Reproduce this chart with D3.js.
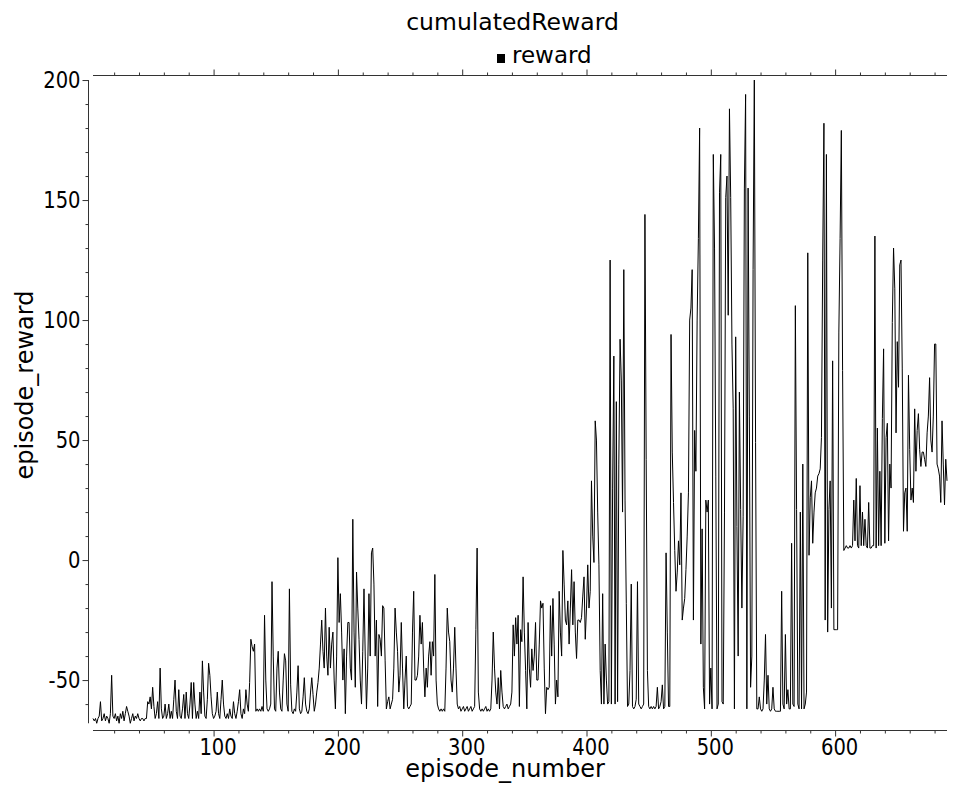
<!DOCTYPE html>
<html><head><meta charset="utf-8">
<script src="https://cdn.jsdelivr.net/npm/d3@7"></script>
<style>
body{margin:0;background:#fff}
svg{display:block}
text{font-family:"DejaVu Sans",sans-serif;fill:#000}
</style>
</head><body>
<svg id="chart" width="953" height="787"></svg>
<script>
const chartTitle = "cumulatedReward";
const seriesName = "reward";
const xLabel = "episode_number";
const yLabel = "episode_reward";
const firstEpisode = 3;
const rewards = [
-66,-67,-66,-68,-66,-65,-59,-67,
-66,-64,-67,-65,-66,-68,-64,-48,-65,-66,
-64,-67,-65,-68,-64,-66,-63,-67,-64,-61,
-63,-65,-68,-66,-64,-67,-65,-66,-64,-66,
-67,-66,-66,-67,-66,-66,-59,-60,-57,-62,
-53,-61,-66,-64,-59,-66,-45,-62,-66,-65,
-60,-66,-64,-60,-66,-63,-66,-58,-50,-63,
-66,-54,-65,-66,-62,-56,-66,-55,-64,-66,
-60,-51,-66,-51,-60,-66,-63,-66,-55,-64,
-42,-55,-65,-66,-58,-43,-48,-57,-64,-66,
-65,-63,-55,-64,-66,-58,-50,-60,-65,-66,
-64,-66,-62,-65,-66,-59,-64,-66,-63,-59,
-54,-64,-66,-62,-64,-54,-60,-63,-51,-33,
-36,-38,-35,-63,-62,-63,-62,-63,-61,-63,
-23,-50,-62,-63,-62,-60,-9,-40,-62,-63,
-45,-38,-55,-62,-63,-50,-39,-42,-60,-63,
-12,-52,-63,-64,-62,-63,-55,-44,-62,-64,
-63,-57,-49,-60,-63,-64,-62,-55,-49,-56,
-63,-60,-55,-51,-45,-35,-25,-38,-45,-20,
-40,-48,-28,-45,-35,-30,-50,-62,-40,1,
-26,-14,-30,-50,-37,-64,-40,-26,-26,-45,
-50,17,-30,-53,-5,-20,-33,-50,-60,-38,
-12,-40,-62,-45,-14,-40,3,5,-10,-40,
-25,-61,-31,-33,-40,-19,-20,-42,-62,-59,
-57,-62,-60,-58,-45,-20,-30,-38,-55,-48,
-26,-45,-62,-50,-40,-61,-62,-61,-60,-30,
-13,-50,-50,-48,-40,-23,-35,-26,-45,-57,
-45,-53,-40,-34,-48,-34,-40,-6,-50,-60,
-62,-63,-62,-63,-62,-63,-45,-20,-30,-34,
-50,-55,-45,-28,-45,-60,-62,-61,-63,-62,
-61,-63,-62,-61,-63,-62,-61,-63,-62,-61,
-29,5,-55,-62,-63,-62,-63,-62,-61,-63,
-62,-63,-62,-50,-30,-45,-55,-60,-49,-62,
-46,-55,-61,-62,-61,-60,-62,-61,-60,-55,
-27,-40,-24,-35,-23,-61,-29,-34,-7,-30,
-46,-62,-26,-45,-53,-37,-46,-40,-26,-50,
-50,-35,-17,-20,-18,-45,-64,-53,-54,-53,
-19,-40,-16,-35,-60,-50,-57,-13,-30,-40,
4,-10,-25,-27,-17,-35,-20,-4,-27,-9,
-30,-41,-25,-25,-26,-24,-15,-7,-33,-20,
-2,-20,-13,33,10,-1,58,50,20,-2,
-46,-60,-14,-60,-35,-50,-60,-59,125,-60,
30,85,-60,66,-59,40,92,75,20,121,
25,-18,-61,-60,-46,-10,-61,-62,-61,-58,
-9,-60,-61,-62,-61,-60,144,42,-46,-61,
-62,-61,-62,-61,-62,-61,-53,-62,-61,-59,
-52,-62,-61,3,-30,-61,-61,94,45,24,
4,-13,-5,8,-2,28,-25,-20,-16,-4,
10,28,100,105,121,-25,54,37,100,134,
180,-35,13,-53,-62,25,20,25,-60,-45,
-62,169,130,35,-62,-60,153,169,-59,-60,
20,151,160,102,188,151,90,63,-62,93,
14,-40,70,21,-20,18,155,194,-62,155,
60,-53,-40,121,200,49,-62,-62,-57,-62,
-63,-62,-50,-31,-60,-48,-62,-63,-62,-53,
-62,-63,-63,-63,-63,-63,-13,-60,-62,-31,
-60,-54,-62,-62,7,-60,-61,106,21,-60,
-62,20,-62,40,-62,-60,-55,128,2,26,
33,7,20,28,30,35,36,38,51,125,
182,-25,169,-30,21,33,-20,83,-29,-29,
-29,-29,95,134,179,79,4,5,6,5,
5,6,5,6,25,8,34,6,5,31,
6,20,6,17,6,5,24,5,5,6,
6,135,5,55,6,37,6,59,88,7,
51,57,8,40,30,99,130,113,53,91,
72,123,125,80,12,28,30,12,77,46,
25,30,24,63,37,54,61,46,39,45,
45,42,39,53,60,76,50,45,60,90,
90,40,38,35,24,58,40,23,42,33
];
const xTickValues = [100, 200, 300, 400, 500, 600];
const xTickLabels = ["100", "200", "300", "400", "500", "600"];
const yTickValues = [-50, 0, 50, 100, 150, 200];
const yTickLabels = ["-50", "0", "50", "100", "150", "200"];
const xMinorTicks = [20,40,60,80,120,140,160,180,220,240,260,280,320,340,360,380,420,440,460,480,520,540,560,580,620,640,660,680];
const yMinorTicks = [-60,-40,-30,-20,-10,10,20,30,40,60,70,80,90,110,120,130,140,160,170,180,190];

const episodes = rewards.map((_, i) => firstEpisode + i);
const data = episodes.map((e, i) => ({ e, r: rewards[i] }));

const svg = d3.select("#chart");
const x = d3.scaleLinear().domain(d3.extent(episodes)).range([93, 947]);
const y = d3.scaleLinear().domain([-70.8, 202.1]).range([730, 75]);

const axisColor = "#333";
const fontTick = "23px";
const tickSquash = 0.85;

// left axis (offset outward, spans data range)
const gy = svg.append("g").attr("transform", "translate(88.5,0)");
gy.append("line")
  .attr("y1", y(d3.min(rewards))).attr("y2", y(d3.max(rewards)))
  .attr("stroke", axisColor);
const yMinorAxis = d3.axisLeft(y).tickValues(yMinorTicks).tickSize(3).tickFormat("");
const yMajorAxis = d3.axisLeft(y).tickValues(yTickValues).tickSize(6).tickPadding(2)
  .tickFormat((d, i) => yTickLabels[i]);
const gyMinor = gy.append("g").call(yMinorAxis);
const gyMajor = gy.append("g").call(yMajorAxis);
[gyMinor, gyMajor].forEach(g => {
  g.select(".domain").remove();
  g.selectAll(".tick line").attr("stroke", axisColor);
});
gyMajor.selectAll(".tick text").style("font-family", '"DejaVu Sans", sans-serif')
  .style("font-size", fontTick).attr("fill", "#000")
  .attr("x", -8 / tickSquash).attr("transform", `scale(${tickSquash},1)`);

// bottom axis
const gx = svg.append("g").attr("transform", "translate(0,730.5)");
gx.append("line").attr("x1", x.range()[0]).attr("x2", x.range()[1]).attr("stroke", axisColor);
const gxMinor = gx.append("g").call(d3.axisBottom(x).tickValues(xMinorTicks).tickSize(3).tickFormat(""));
const gxMajor = gx.append("g").call(d3.axisBottom(x).tickValues(xTickValues).tickSize(6).tickPadding(2)
  .tickFormat((d, i) => xTickLabels[i]));
[gxMinor, gxMajor].forEach(g => {
  g.select(".domain").remove();
  g.selectAll(".tick line").attr("stroke", axisColor);
});
gxMajor.selectAll(".tick text").style("font-family", '"DejaVu Sans", sans-serif')
  .style("font-size", fontTick).attr("fill", "#000")
  .attr("dx", 4 / tickSquash).attr("transform", `scale(${tickSquash},1)`);

// top axis (ticks pointing up)
const gt = svg.append("g").attr("transform", "translate(0,75.5)");
gt.append("line").attr("x1", x.range()[0]).attr("x2", x.range()[1]).attr("stroke", axisColor);
const gtMinor = gt.append("g").call(d3.axisTop(x).tickValues(xMinorTicks).tickSize(3).tickFormat(""));
const gtMajor = gt.append("g").call(d3.axisTop(x).tickValues(xTickValues).tickSize(6).tickFormat(""));
[gtMinor, gtMajor].forEach(g => {
  g.select(".domain").remove();
  g.selectAll(".tick line").attr("stroke", axisColor);
});

// series line
const line = d3.line().x(d => x(d.e)).y(d => y(d.r));
svg.append("path").datum(data)
  .attr("d", line)
  .attr("fill", "none")
  .attr("stroke", "#000")
  .attr("stroke-width", 1);

// title
svg.append("text").attr("x", 512.5).attr("y", 30).attr("text-anchor", "middle")
  .style("font-size", "23.5px").text(chartTitle);

// legend
svg.append("rect").attr("x", 497).attr("y", 54).attr("width", 8).attr("height", 9).attr("fill", "#000");
svg.append("text").attr("x", 512).attr("y", 63).style("font-size", "23px").text(seriesName);

// axis labels
svg.append("text").attr("x", 505).attr("y", 777).attr("text-anchor", "middle")
  .style("font-size", "24px").text(xLabel);
svg.append("text").attr("transform", "translate(33,385) rotate(-90)").attr("text-anchor", "middle")
  .style("font-size", "24px").text(yLabel);
</script>
</body></html>
